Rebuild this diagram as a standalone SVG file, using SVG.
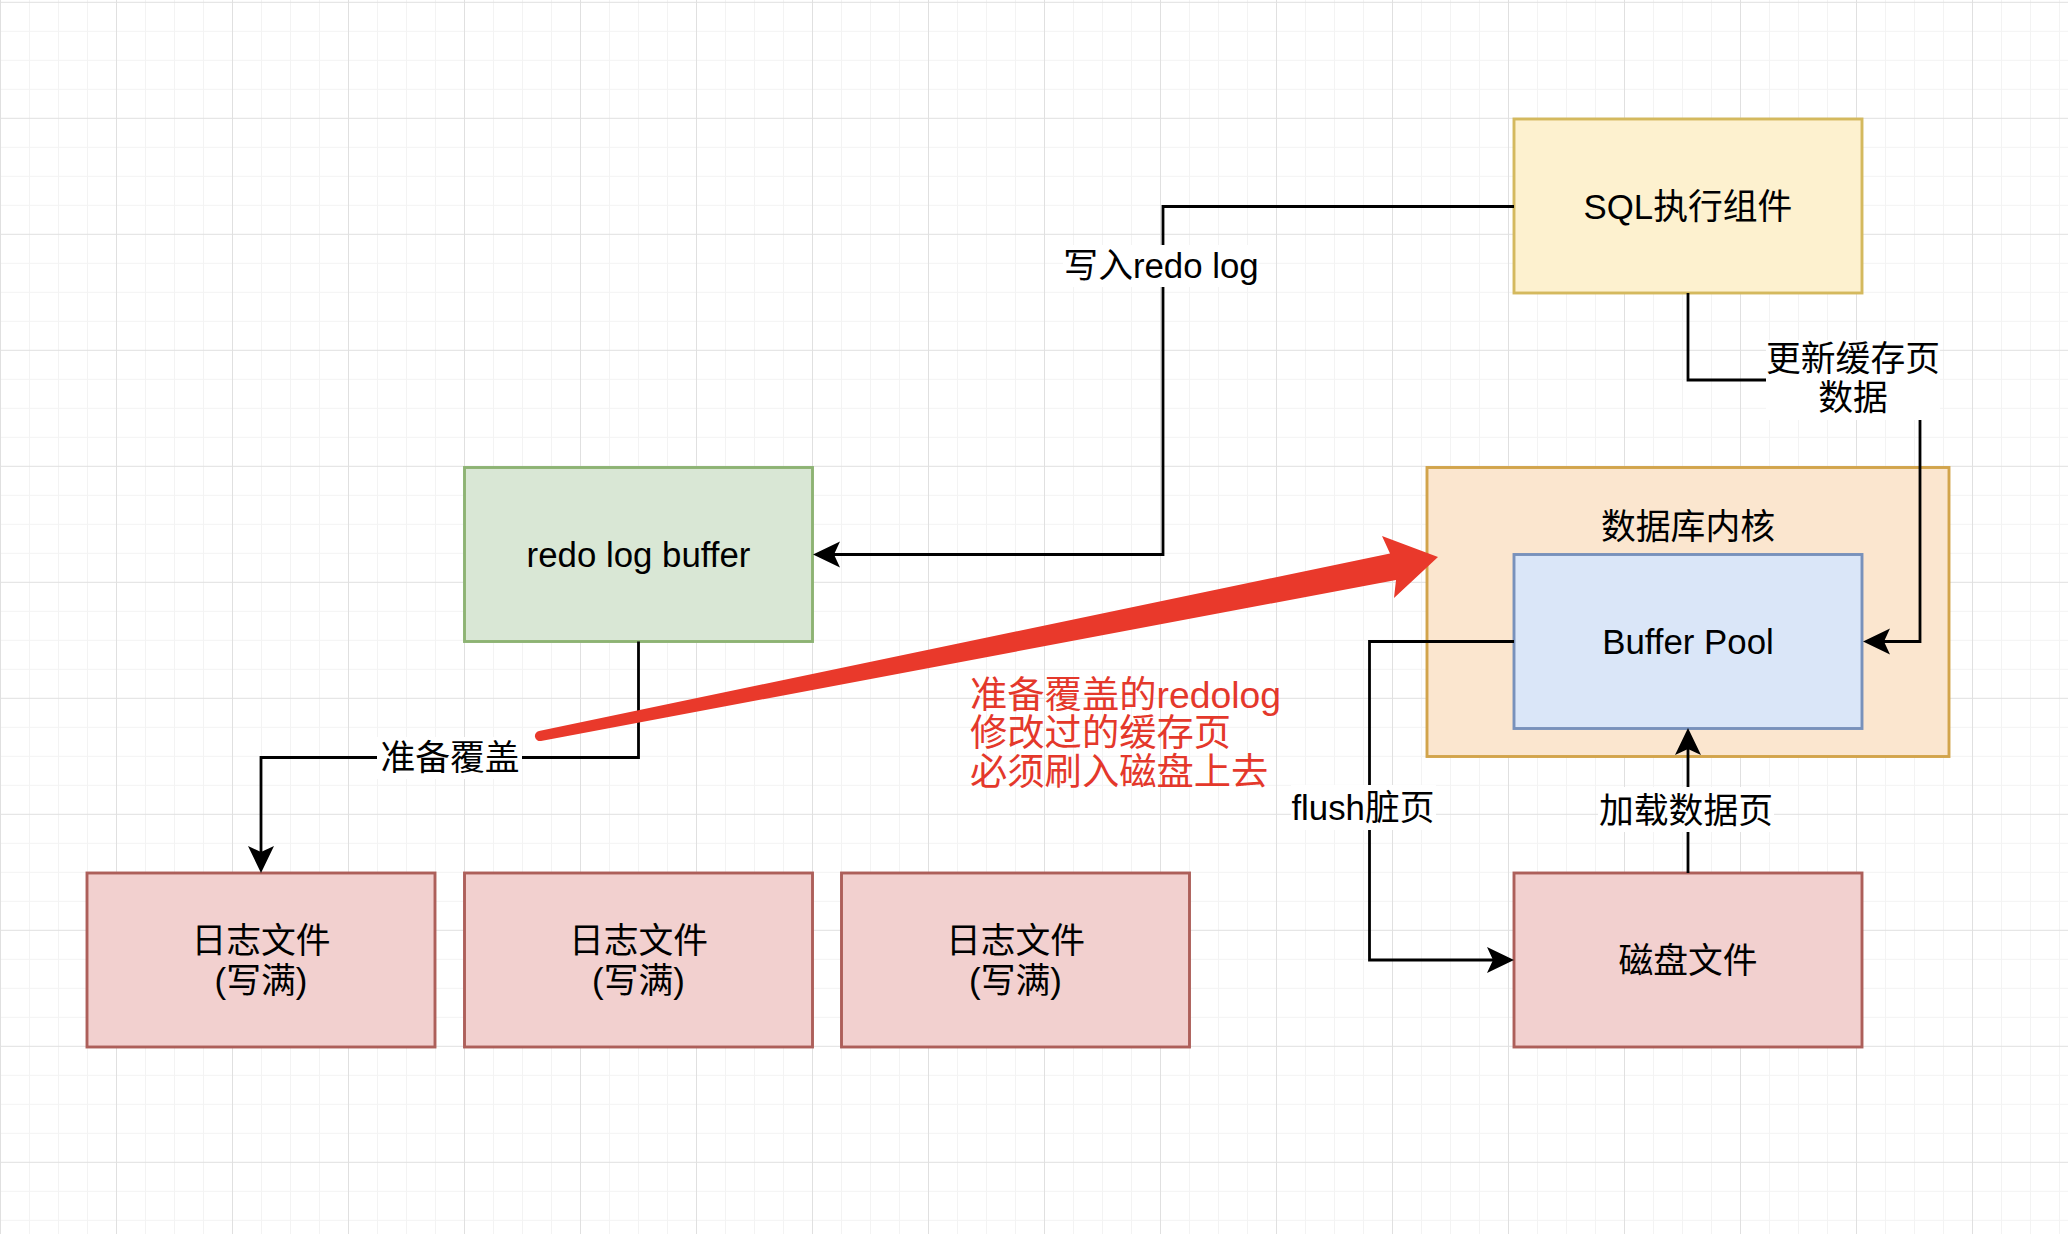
<svg xmlns="http://www.w3.org/2000/svg" width="2068" height="1234" viewBox="0 0 2068 1234">
<defs>
<pattern id="grid" x="0" y="1.8" width="116" height="116" patternUnits="userSpaceOnUse">
<rect x="29" y="0" width="1" height="116" fill="#f3f3f3"/>
<rect x="58" y="0" width="1" height="116" fill="#f3f3f3"/>
<rect x="87" y="0" width="1" height="116" fill="#f3f3f3"/>
<rect x="0" y="29" width="116" height="1" fill="#f3f3f3"/>
<rect x="0" y="58" width="116" height="1" fill="#f3f3f3"/>
<rect x="0" y="87" width="116" height="1" fill="#f3f3f3"/>
<rect x="0" y="0" width="1" height="116" fill="#e0e0e0"/>
<rect x="0" y="0" width="116" height="1" fill="#e0e0e0"/>
</pattern>
<marker id="arr" markerUnits="userSpaceOnUse" markerWidth="40" markerHeight="40" viewBox="-30 -20 40 40" refX="0" refY="0" orient="auto">
<path d="M4,0 L-23,-13 L-17,0 L-23,13 Z" fill="#000"/>
</marker>
</defs>
<style>
.t{font-family:"Liberation Sans","Noto Sans CJK SC",sans-serif;font-size:34.8px;fill:#000;text-anchor:middle}
.red{font-family:"Liberation Sans","Noto Sans CJK SC",sans-serif;font-size:37.3px;fill:#e4382b}
.c{fill:none;stroke:#000;stroke-width:2.8;marker-end:url(#arr)}
.bg{fill:#fff}
.box{stroke-width:2.9}
</style>
<rect x="0" y="0" width="2068" height="1234" fill="#fff"/>
<rect x="0" y="0" width="2068" height="1234" fill="url(#grid)"/>

<g id="sql">
<rect class="box" x="1514" y="119" width="348" height="174" fill="#fdf1cf" stroke="#d4b95e"/>
<text class="t" x="1688" y="219">SQL执行组件</text>
</g>
<g id="redo-log-buffer">
<rect class="box" x="464.5" y="467.5" width="348" height="174" fill="#d9e7d5" stroke="#8db373"/>
<text class="t" x="638.5" y="567">redo log buffer</text>
</g>
<g id="db-kernel">
<rect class="box" x="1427" y="467.5" width="522" height="289" fill="#fbe6cf" stroke="#d2a44b"/>
<text class="t" x="1688" y="539">数据库内核</text>
</g>
<g id="buffer-pool">
<rect class="box" x="1514" y="554.5" width="348" height="174" fill="#dae6f8" stroke="#7891bb"/>
<text class="t" x="1688" y="654">Buffer Pool</text>
</g>
<g id="log1">
<rect class="box" x="87" y="873" width="348" height="174" fill="#f2d0cf" stroke="#ad5f5a"/>
<text class="t" x="261" y="953">日志文件</text>
<text class="t" x="261" y="993">(写满)</text>
</g>
<g id="log2">
<rect class="box" x="464.5" y="873" width="348" height="174" fill="#f2d0cf" stroke="#ad5f5a"/>
<text class="t" x="638.5" y="953">日志文件</text>
<text class="t" x="638.5" y="993">(写满)</text>
</g>
<g id="log3">
<rect class="box" x="841.5" y="873" width="348" height="174" fill="#f2d0cf" stroke="#ad5f5a"/>
<text class="t" x="1015.5" y="953">日志文件</text>
<text class="t" x="1015.5" y="993">(写满)</text>
</g>
<g id="disk">
<rect class="box" x="1514" y="873" width="348" height="174" fill="#f2d0cf" stroke="#ad5f5a"/>
<text class="t" x="1688" y="973">磁盘文件</text>
</g>

<g id="connectors">
<path class="c" d="M1514,206.5 H1163 V554.5 H817"/>
<path class="c" d="M1688,293 V380 H1920 V641.5 H1867"/>
<path class="c" d="M1514,641.5 H1369.5 V960 H1510"/>
<path class="c" d="M1688,873 V732"/>
<path class="c" d="M638.5,641.5 V757.5 H261 V869"/>
<rect class="bg" x="1063" y="245" width="196" height="42"/>
<text class="t" x="1161" y="278">写入redo log</text>
<rect class="bg" x="1766" y="340" width="174" height="80"/>
<text class="t" x="1853" y="371">更新缓存页</text>
<text class="t" x="1853" y="410">数据</text>
<rect class="bg" x="1291" y="785" width="145" height="45"/>
<text class="t" x="1363" y="820">flush脏页</text>
<rect class="bg" x="1598" y="787" width="176" height="45"/>
<text class="t" x="1686" y="823">加载数据页</text>
<rect class="bg" x="377" y="737" width="145" height="42"/>
<text class="t" x="450" y="770">准备覆盖</text>
</g>

<g id="red-arrow">
<path d="M539,731 L1390,553.5 L1382,536 L1438,557 L1394,598 L1396,580 L541,741 A5,5 0 0 1 539,731 Z" fill="#e9392b"/>
</g>
<g id="red-note">
<text class="red" x="970" y="708">准备覆盖的redolog</text>
<text class="red" x="970" y="746">修改过的缓存页</text>
<text class="red" x="970" y="785">必须刷入磁盘上去</text>
</g>
</svg>
